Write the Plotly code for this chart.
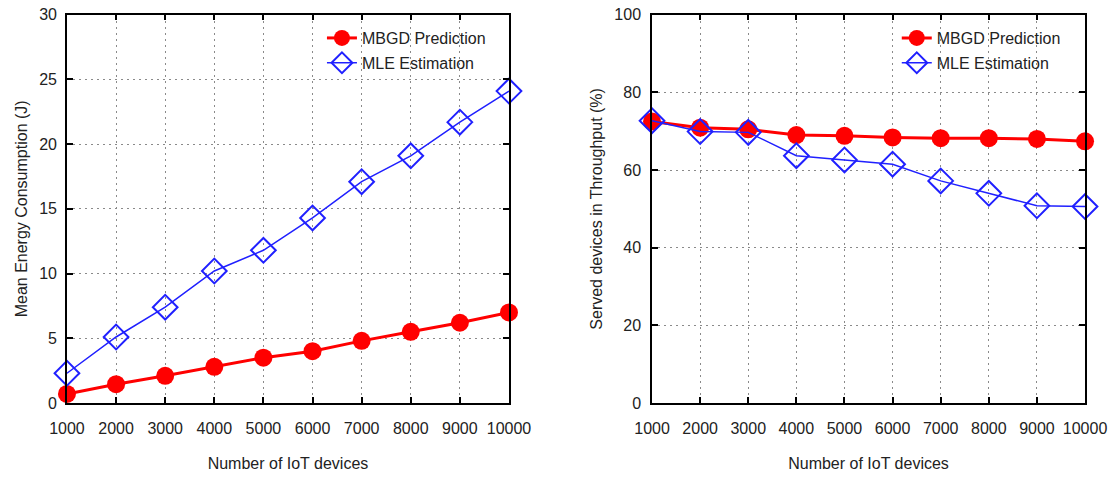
import plotly.graph_objects as go

devices = [1000, 2000, 3000, 4000, 5000, 6000, 7000, 8000, 9000, 10000]
energy_mbgd = [0.7, 1.45, 2.1, 2.8, 3.5, 4.0, 4.8, 5.5, 6.2, 7.0]
energy_mle = [2.3, 5.1, 7.4, 10.2, 11.8, 14.3, 17.1, 19.1, 21.7, 24.1]
thr_mbgd = [72.5, 70.9, 70.5, 69.0, 68.8, 68.4, 68.2, 68.2, 68.0, 67.4]
thr_mle = [72.7, 69.9, 69.7, 63.7, 62.6, 61.5, 57.2, 54.0, 50.8, 50.6]
x_ticks = [str(v) for v in devices]

RED = "#ff0000"
BLUE = "#2020ff"
FONT = "Liberation Sans, Arial, sans-serif"
FS = 16

fig = go.Figure()

def add_pair(xa, ya, mb, ml, legend):
    fig.add_trace(go.Scatter(
        x=devices, y=mb, xaxis=xa, yaxis=ya, name="MBGD Prediction",
        mode="lines+markers", legend=legend, legendgroup="a" + legend, cliponaxis=False,
        line=dict(color=RED, width=3),
        marker=dict(symbol="circle", size=18, color=RED)))
    fig.add_trace(go.Scatter(
        x=devices, y=ml, xaxis=xa, yaxis=ya, name="MLE Estimation",
        mode="lines+markers", legend=legend, legendgroup="b" + legend, cliponaxis=False,
        line=dict(color=BLUE, width=1.5),
        marker=dict(symbol="diamond-open", size=19, color=BLUE,
                    line=dict(width=2, color=BLUE))))

add_pair("x", "y", energy_mbgd, energy_mle, "legend")
add_pair("x2", "y2", thr_mbgd, thr_mle, "legend2")

axis_common = dict(
    showline=True, linecolor="black", linewidth=1.5, mirror="ticks",
    ticks="inside", ticklen=6, tickwidth=1.5, tickcolor="black",
    showgrid=True, gridcolor="#8a8a8a", griddash="2px,4px", gridwidth=1,
    zeroline=False, automargin=False,
    tickfont=dict(size=FS, color="#222", family=FONT),
    title_font=dict(size=FS, color="#222", family=FONT),
)

leg_common = dict(xanchor="left", yanchor="top", bgcolor="rgba(0,0,0,0)",
                  font=dict(size=FS, family=FONT, color="#222"),
                  tracegroupgap=1, traceorder="grouped")

fig.update_layout(
    width=1114, height=478,
    margin=dict(l=0, r=0, t=0, b=0, autoexpand=False),
    paper_bgcolor="white", plot_bgcolor="white",
    font=dict(family=FONT, size=FS, color="#222"),
    xaxis=dict(domain=[0.0601, 0.4569], range=[1000, 10000], tickvals=devices,
               ticktext=x_ticks, ticklabelstandoff=10, tickangle=0,
               title=dict(text="Number of IoT devices", standoff=22), anchor="y", **axis_common),
    yaxis=dict(domain=[0.1569, 0.9692], range=[0, 30], dtick=5, ticklabelstandoff=5,
               title=dict(text="Mean Energy Consumption (J)", standoff=8), anchor="x", **axis_common),
    xaxis2=dict(domain=[0.5853, 0.974], range=[1000, 10000], tickvals=devices,
                ticktext=x_ticks, ticklabelstandoff=10, tickangle=0,
                title=dict(text="Number of IoT devices", standoff=22), anchor="y2", **axis_common),
    yaxis2=dict(domain=[0.1569, 0.9692], range=[0, 100], dtick=20, ticklabelstandoff=6,
                title=dict(text="Served devices in Throughput (%)", standoff=8), anchor="x2", **axis_common),
    legend=dict(x=0.289, y=0.956, **leg_common),
    legend2=dict(x=0.805, y=0.956, **leg_common),
)

fig.write_html("out.html")
